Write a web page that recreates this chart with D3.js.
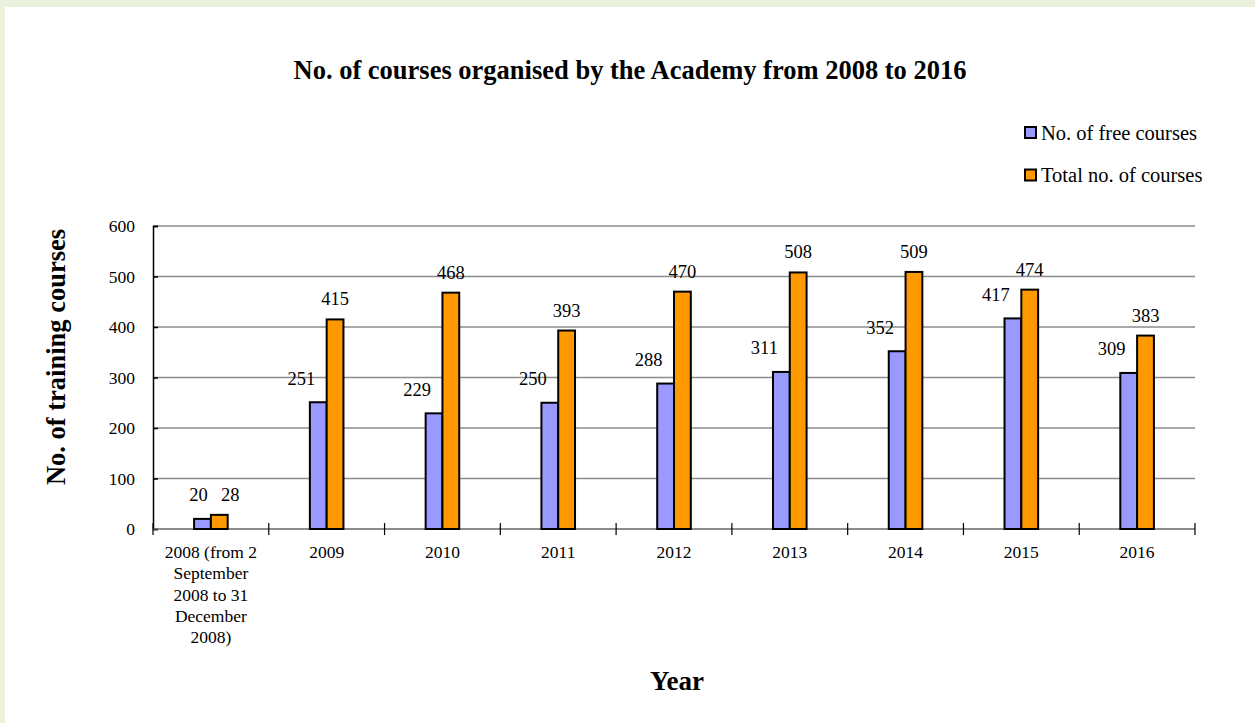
<!DOCTYPE html>
<html><head><meta charset="utf-8">
<script src="https://cdn.jsdelivr.net/npm/d3@7"></script>
<style>
html,body{margin:0;padding:0;background:#fff;}
svg{display:block;font-family:"Liberation Serif","Times New Roman",serif;}
</style></head>
<body>
<svg id="c" width="1255" height="723"></svg>
<script>
const categories = [
  ["2008 (from 2","September","2008 to 31","December","2008)"],
  ["2009"],["2010"],["2011"],["2012"],["2013"],["2014"],["2015"],["2016"]
];
const freeCourses  = [20, 251, 229, 250, 288, 311, 352, 417, 309];
const totalCourses = [28, 415, 468, 393, 470, 508, 509, 474, 383];
const yTicks = [0, 100, 200, 300, 400, 500, 600];
const seriesNames = ["No. of free courses", "Total no. of courses"];
const colors = ["#9999FF", "#FF9900"];

(function(){
const FONT = "Liberation Serif";
const svg = d3.select("#c");
svg.append("rect").attr("x",0).attr("y",0).attr("width",1255).attr("height",723).attr("fill","#fff");
svg.append("rect").attr("x",0).attr("y",0).attr("width",1255).attr("height",7).attr("fill","#EAF1DD");
svg.append("rect").attr("x",0).attr("y",0).attr("width",5).attr("height",723).attr("fill","#EAF1DD");

const pL = 153, pR = 1195, pT = 226, pB = 529;
const x = d3.scaleBand().domain(d3.range(categories.length)).range([pL, pR]).padding(0);
const y = d3.scaleLinear().domain([0, 600]).range([pB, pT]);
const barW = 16.8;

svg.append("g").selectAll("line").data(yTicks.filter(d=>d>0)).join("line")
  .attr("x1", pL).attr("x2", pR)
  .attr("y1", d=>y(d)).attr("y2", d=>y(d))
  .attr("stroke", "#8c8c8c").attr("stroke-width", 1.5);

const yAxis = svg.append("g").attr("transform", `translate(${pL},0)`)
  .call(d3.axisLeft(y).tickValues(yTicks).tickSize(-5).tickPadding(18));
yAxis.attr("font-family", FONT);
yAxis.select(".domain").attr("stroke","#000").attr("stroke-width",1.5);
yAxis.selectAll(".tick line").attr("stroke","#000").attr("stroke-width",1.5);
yAxis.selectAll(".tick text").attr("font-family",FONT).attr("font-size",17.5).attr("fill","#000");

svg.append("line").attr("x1",pL).attr("x2",pR).attr("y1",pB).attr("y2",pB)
  .attr("stroke","#666").attr("stroke-width",1.5);
const bounds = d3.range(categories.length + 1).map(i => pL + i * x.bandwidth());
svg.append("g").selectAll("line").data(bounds).join("line")
  .attr("x1", d=>d).attr("x2", d=>d).attr("y1", pB-6).attr("y2", pB+6)
  .attr("stroke","#000").attr("stroke-width",1.2);

const groups = svg.append("g").selectAll("g").data(categories.map((c,i)=>i)).join("g");
groups.append("rect")
  .attr("x", i => x(i) + x.bandwidth()/2 - barW)
  .attr("y", i => y(freeCourses[i]))
  .attr("width", barW).attr("height", i => y(0) - y(freeCourses[i]))
  .attr("fill", colors[0]).attr("stroke","#000").attr("stroke-width",2);
groups.append("rect")
  .attr("x", i => x(i) + x.bandwidth()/2)
  .attr("y", i => y(totalCourses[i]))
  .attr("width", barW).attr("height", i => y(0) - y(totalCourses[i]))
  .attr("fill", colors[1]).attr("stroke","#000").attr("stroke-width",2);

groups.append("text")
  .attr("x", i => x(i) + x.bandwidth()/2 - barW/2 - (i===0 ? 4 : 17))
  .attr("y", i => y(freeCourses[i]) - 17.5)
  .attr("text-anchor","middle").attr("font-size",18.5).attr("fill","#000")
  .text(i => freeCourses[i]);
groups.append("text")
  .attr("x", i => x(i) + x.bandwidth()/2 + barW/2 + (i===0 ? 11 : 0))
  .attr("y", i => y(totalCourses[i]) - 14)
  .attr("text-anchor","middle").attr("font-size",18.5).attr("fill","#000")
  .text(i => totalCourses[i]);

groups.append("text")
  .attr("text-anchor","middle").attr("font-size",17.5).attr("fill","#000")
  .selectAll("tspan").data(i => categories[i].map(l => ({l, i}))).join("tspan")
  .attr("x", d => x(d.i) + x.bandwidth()/2)
  .attr("y", (d, k) => 558 + k * 21.3)
  .text(d => d.l);

svg.append("text").attr("x", 630).attr("y", 79).attr("text-anchor","middle")
  .attr("font-size", 26.5).attr("font-weight","bold").attr("fill","#000")
  .text("No. of courses organised by the Academy from 2008 to 2016");

svg.append("text").attr("x", 677).attr("y", 690).attr("text-anchor","middle")
  .attr("font-size", 27).attr("font-weight","bold").attr("fill","#000").text("Year");
svg.append("text").attr("transform","translate(65,357) rotate(-90)").attr("text-anchor","middle")
  .attr("font-size", 26.5).attr("font-weight","bold").attr("fill","#000").text("No. of training courses");

const lg = svg.append("g").selectAll("g").data(seriesNames).join("g")
  .attr("transform", (d,i) => `translate(1025,${127 + i*42.5})`);
lg.append("rect").attr("width",11).attr("height",11)
  .attr("fill",(d,i)=>colors[i]).attr("stroke","#000").attr("stroke-width",2);
lg.append("text").attr("x",16).attr("y",12.5).attr("font-size",20.5).attr("fill","#000").text(d=>d);
})();
</script>
</body></html>
